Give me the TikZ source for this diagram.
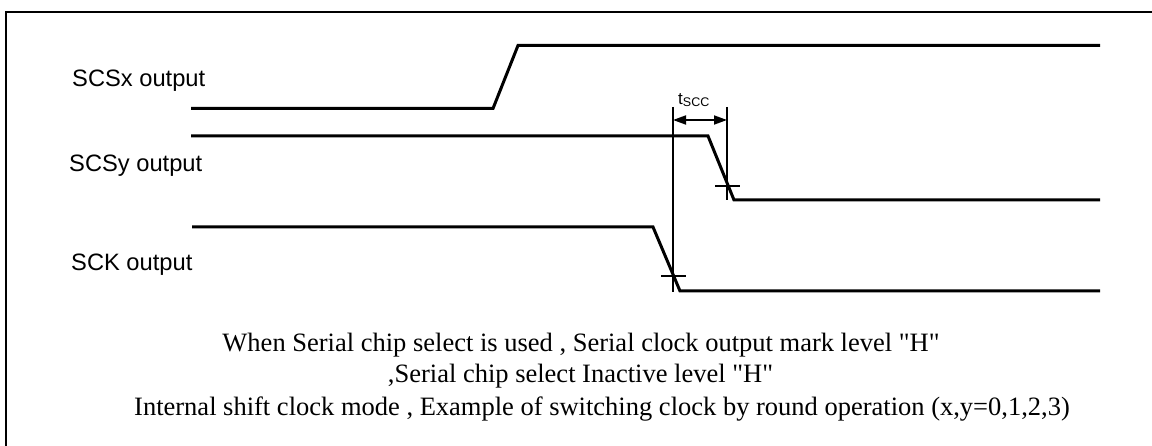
\documentclass[tikz,border=0pt]{standalone}
\usepackage{fontspec}
\setmainfont{Liberation Serif}
\newfontfamily\arialfont{Liberation Sans}
\usetikzlibrary{arrows.meta}
\tikzset{
  sig/.style={line width=3pt, line join=miter},
  refline/.style={line width=1.8pt},
  tick/.style={line width=1.8pt},
  frame/.style={line width=2pt},
  siglabel/.style={anchor=base west, inner sep=0pt, font=\arialfont\fontsize{23.7}{28}\selectfont},
  caption/.style={anchor=base, inner sep=0pt, font=\fontsize{26.5}{30}\selectfont},
  dim/.style={line width=1.8pt, {Triangle[length=13pt,width=9pt]}-{Triangle[length=13pt,width=9pt]}}
}
\begin{document}
\begin{tikzpicture}[x=1pt,y=-1pt]
\useasboundingbox (0,0) rectangle (1152,446);
% frame (right and bottom sides outside the picture)
\draw[frame] (6,460) -- (6,12) -- (1170,12);
% labels
\node[siglabel] (lx) at (72,87) {SCSx output};
\node[siglabel] (ly) at (69,172) {SCSy output};
\node[siglabel] (lk) at (71,271) {SCK output};
% SCSx
\draw[sig] (191,108.5) -- (493,108.5) -- (518,45.5) -- (1100,45.5);
% SCSy
\draw[sig] (191,136) -- (708,136) -- (734,200) -- (1100,200);
% SCK
\draw[sig] (192,227) -- (653,227) -- (680,291) -- (1100,291);
% reference lines
\coordinate (v1t) at (673,107);
\coordinate (v1b) at (673,292);
\coordinate (v2t) at (727,107);
\coordinate (v2b) at (727,200);
\draw[refline] (v1t) -- (v1b);
\draw[refline] (v2t) -- (v2b);
% cross ticks
\coordinate (t1a) at (715,186);
\coordinate (t1b) at (740,186);
\coordinate (t2a) at (661,276);
\coordinate (t2b) at (686,276);
\draw[tick] (t1a) -- (t1b);
\draw[tick] (t2a) -- (t2b);
% dimension arrow
\coordinate (a1) at (673,120);
\coordinate (a2) at (727,120);
\draw[dim] (a1) -- (a2);
\node[anchor=base west, inner sep=0pt] (tscc) at (678,105)
  {\arialfont\fontsize{17}{17}\selectfont t\raisebox{-2pt}{\fontsize{12.5}{12.5}\selectfont SCC}};
% caption
\node[caption] (c1) at (581,352) {When Serial chip select is used , Serial clock output mark level \textquotedbl H\textquotedbl};
\node[caption] (c2) at (580.5,383) {,Serial chip select Inactive level \textquotedbl H\textquotedbl};
\node[caption] (c3) at (602,415) {Internal shift clock mode , Example of switching clock by round operation (x,y=0,1,2,3)};
\end{tikzpicture}
\end{document}
